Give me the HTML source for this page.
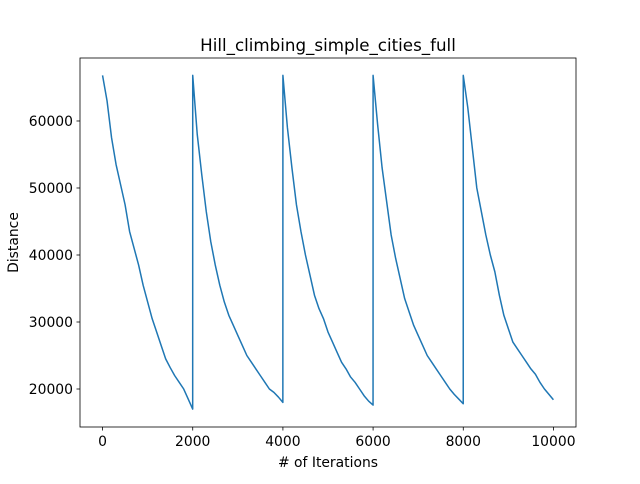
<!DOCTYPE html>
<html><head><meta charset="utf-8"><style>
body{margin:0;background:#fff;font-family:"DejaVu Sans","Liberation Sans",sans-serif}
svg text{font-family:"DejaVu Sans","Liberation Sans",sans-serif;fill:#000}
</style></head><body>
<svg id="chart" width="640" height="480"></svg>
<script>
const seg1=[66800,63000,57500,53500,50500,47500,43500,41000,38500,35500,33000,30500,28500,26500,24500,23200,22000,21000,20000,18500,17000];
const seg2=[66800,58000,52000,46500,42000,38500,35500,33000,31000,29500,28000,26500,25000,24000,23000,22000,21000,20000,19500,18800,18000];
const seg3=[66800,59000,53000,47500,43500,40000,37000,34000,32000,30500,28500,27000,25500,24000,23000,21800,21000,20000,19000,18200,17600];
const seg4=[66800,59500,53000,48000,43000,39500,36500,33500,31500,29500,28000,26500,25000,24000,23000,22000,21000,20000,19200,18500,17800];
const seg5=[66800,62000,56000,50000,46500,43000,40000,37500,34000,31000,29000,27000,26000,25000,24000,23000,22200,21000,20000,19200,18400];
const segments=[seg1,seg2,seg3,seg4,seg5];
const segLength=2000;
const xTicks=[0,2000,4000,6000,8000,10000];
const yTicks=[20000,30000,40000,50000,60000];
const L=80,R=576,T=58,B=427;
const xMin=-500,xMax=10500,yMin=14330,yMax=69400;
const sx=v=>L+(v-xMin)/(xMax-xMin)*(R-L);
const sy=v=>B-(v-yMin)/(yMax-yMin)*(B-T);
const svg=document.getElementById('chart');
const NS='http://www.w3.org/2000/svg';
function mk(tag,attrs,parent){const e=document.createElementNS(NS,tag);for(const k in attrs)e.setAttribute(k,attrs[k]);(parent||svg).appendChild(e);return e;}
let pts=[];
segments.forEach((s,k)=>{s.forEach((v,i)=>{const it=k*segLength+(i===s.length-1?segLength-1:i*segLength/(s.length-1));pts.push(sx(it).toFixed(2)+','+sy(v).toFixed(2));});});
const line=mk('polyline',{points:pts.join(' '),fill:'none',stroke:'#1f77b4','stroke-width':1.5,'stroke-linejoin':'round'});


const frame=mk('rect',{x:L,y:T,width:R-L,height:B-T,fill:'none',stroke:'#000','stroke-width':0.8});


xTicks.forEach(v=>{const x=sx(v);
 const t=mk('line',{x1:x,x2:x,y1:B,y2:B+3.5,stroke:'#000','stroke-width':0.8});
 
 const l=mk('text',{x:x,y:B+19,'font-size':13.9,'text-anchor':'middle'});l.textContent=v;
 });
yTicks.forEach(v=>{const y=sy(v);
 const t=mk('line',{x1:L-3.5,x2:L,y1:y,y2:y,stroke:'#000','stroke-width':0.8});
 
 const l=mk('text',{x:L-7,y:y+5,'font-size':13.9,'text-anchor':'end'});l.textContent=v;
 });
const title=mk('text',{x:(L+R)/2,y:T-7,'font-size':16.7,'text-anchor':'middle'});title.textContent='Hill_climbing_simple_cities_full';

const xt=mk('text',{x:(L+R)/2,y:467,'font-size':13.9,'text-anchor':'middle'});xt.textContent='# of Iterations';

const yt=mk('text',{x:0,y:0,'font-size':13.9,'text-anchor':'middle',transform:'translate(18,'+((T+B)/2)+') rotate(-90)'});yt.textContent='Distance';

</script>
</body></html>
